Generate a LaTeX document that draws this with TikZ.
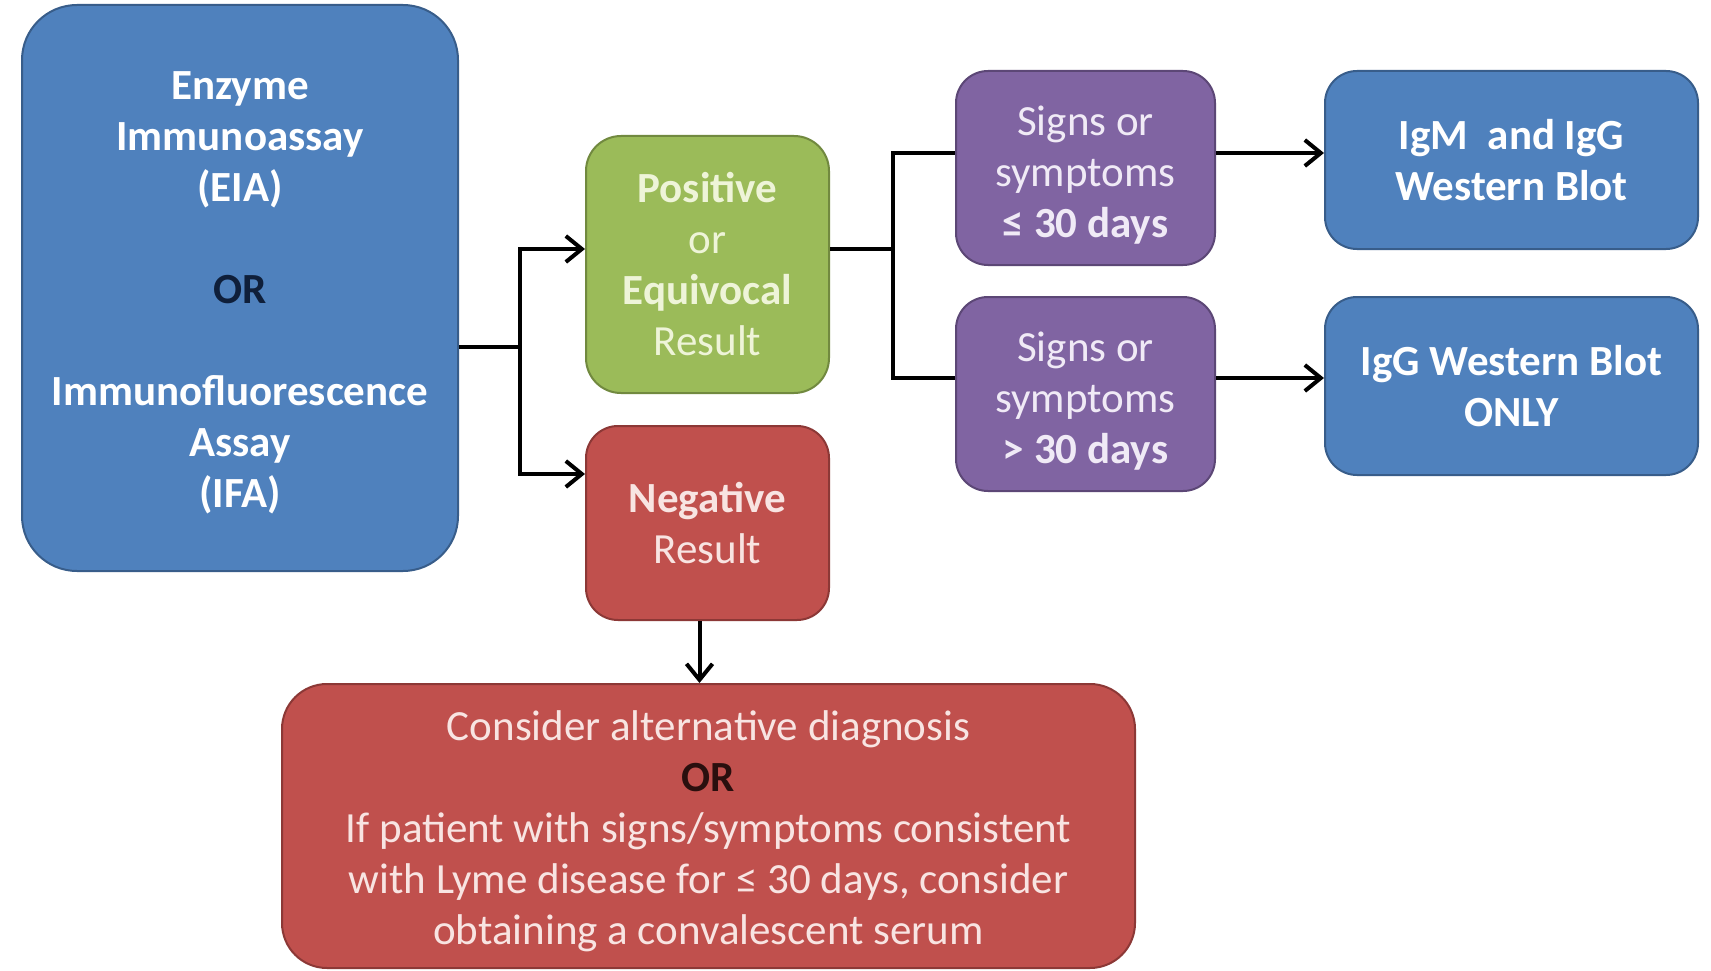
\documentclass[tikz,border=0pt]{standalone}
\usepackage{fontspec}
\setmainfont{Carlito}
\usetikzlibrary{arrows.meta}
\definecolor{bluef}{HTML}{4F81BD}
\definecolor{blued}{HTML}{385D8A}
\definecolor{greenf}{HTML}{9BBB59}
\definecolor{greend}{HTML}{71893F}
\definecolor{redf}{HTML}{C0504D}
\definecolor{redd}{HTML}{8C3836}
\definecolor{purpf}{HTML}{8064A2}
\definecolor{purpd}{HTML}{5C4776}
\definecolor{greentxt}{HTML}{EEF4D8}
\definecolor{redtxt}{HTML}{F8E4E2}
\definecolor{purptxt}{HTML}{F0EAF6}
\definecolor{navytxt}{HTML}{0F1F3A}
\definecolor{darkred}{HTML}{2A0F0E}
\begin{document}
\begin{tikzpicture}[x=1pt,y=-1pt,
  box/.style={draw, line width=2pt, align=center, inner sep=0pt,
    font=\fontsize{43}{51}\selectfont},
  bluebox/.style={box, fill=bluef, draw=blued, text=white},
  greenbox/.style={box, fill=greenf, draw=greend, text=greentxt},
  redbox/.style={box, fill=redf, draw=redd, text=redtxt},
  purpbox/.style={box, fill=purpf, draw=purpd, text=purptxt},
  conn/.style={line width=4pt, draw=black},
  arr/.style={conn, -{Straight Barb[length=16pt,width=26pt]}}
]
\useasboundingbox (0,0) rectangle (1711,971);
\fill[white] (0,0) rectangle (1711,971);

\node[bluebox, rounded corners=55pt, minimum width=436pt, minimum height=566pt] (eia) at (240,288)
  {};
\node[text=white, align=center, font=\fontsize{43}{51}\selectfont] (eiat) at ([yshift=-5pt]eia.center)
  {\bfseries Enzyme\\ \bfseries Immunoassay\\ \bfseries (EIA)\\[51pt] {\bfseries\color{navytxt}OR}\\[51pt] \bfseries Immunofluorescence\\ \bfseries Assay\\ \bfseries (IFA)};

\node[greenbox, rounded corners=35pt, minimum width=243pt, minimum height=257pt] (pos) at (707.5,264.5)
  {\bfseries Positive\\ or\\ \bfseries Equivocal\\ Result};

\node[redbox, rounded corners=32pt, minimum width=243pt, minimum height=194pt] (neg) at (707.5,523)
  {\bfseries Negative\\ Result};

\node[purpbox, rounded corners=32pt, minimum width=259pt, minimum height=194pt] (s1) at (1085.5,168)
  {\rule{0pt}{43pt}Signs or\\ symptoms\\ \bfseries ≤ 30 days};

\node[purpbox, rounded corners=32pt, minimum width=259pt, minimum height=194pt] (s2) at (1085.5,394)
  {\rule{0pt}{43pt}Signs or\\ symptoms\\ \bfseries > 30 days};

\node[bluebox, rounded corners=32pt, minimum width=373pt, minimum height=178pt] (igm) at (1511.5,160)
  {\bfseries IgM\ \ and IgG\\ \bfseries Western Blot};

\node[bluebox, rounded corners=32pt, minimum width=373pt, minimum height=178pt] (igg) at (1511.5,386)
  {\bfseries IgG Western Blot\\ \bfseries ONLY};

\node[redbox, rounded corners=45pt, minimum width=853pt, minimum height=284pt] (alt) at (708.5,826)
  {};
\node[text=redtxt, align=center, font=\fontsize{43}{51}\selectfont] (altt) at ([yshift=-5pt]alt.center)
  {Consider alternative diagnosis\\ {\bfseries\color{darkred}OR}\\ If patient with signs/symptoms consistent\\ with Lyme disease for ≤ 30 days, consider\\ obtaining a convalescent serum};

\coordinate (jA) at (520,347);
\draw[conn] (eia.east |- jA) -- (jA);
\draw[arr] (jA) |- ([yshift=15.5pt]pos.west);
\draw[arr] (jA) |- ([yshift=49pt]neg.west);

\coordinate (jB) at (893,249);
\draw[conn] ([yshift=15.5pt]pos.east) -- (jB);
\draw[conn] (jB) |- ([yshift=15pt]s1.west);
\draw[conn] (jB) |- ([yshift=16pt]s2.west);

\draw[arr] ([yshift=15pt]s1.east) -- ([yshift=15pt]s1.east -| igm.west);
\draw[arr] ([yshift=16pt]s2.east) -- ([yshift=16pt]s2.east -| igg.west);

\draw[arr] ([xshift=-8pt]neg.south) -- ([xshift=-8pt]neg.south |- alt.north);
\end{tikzpicture}
\end{document}
